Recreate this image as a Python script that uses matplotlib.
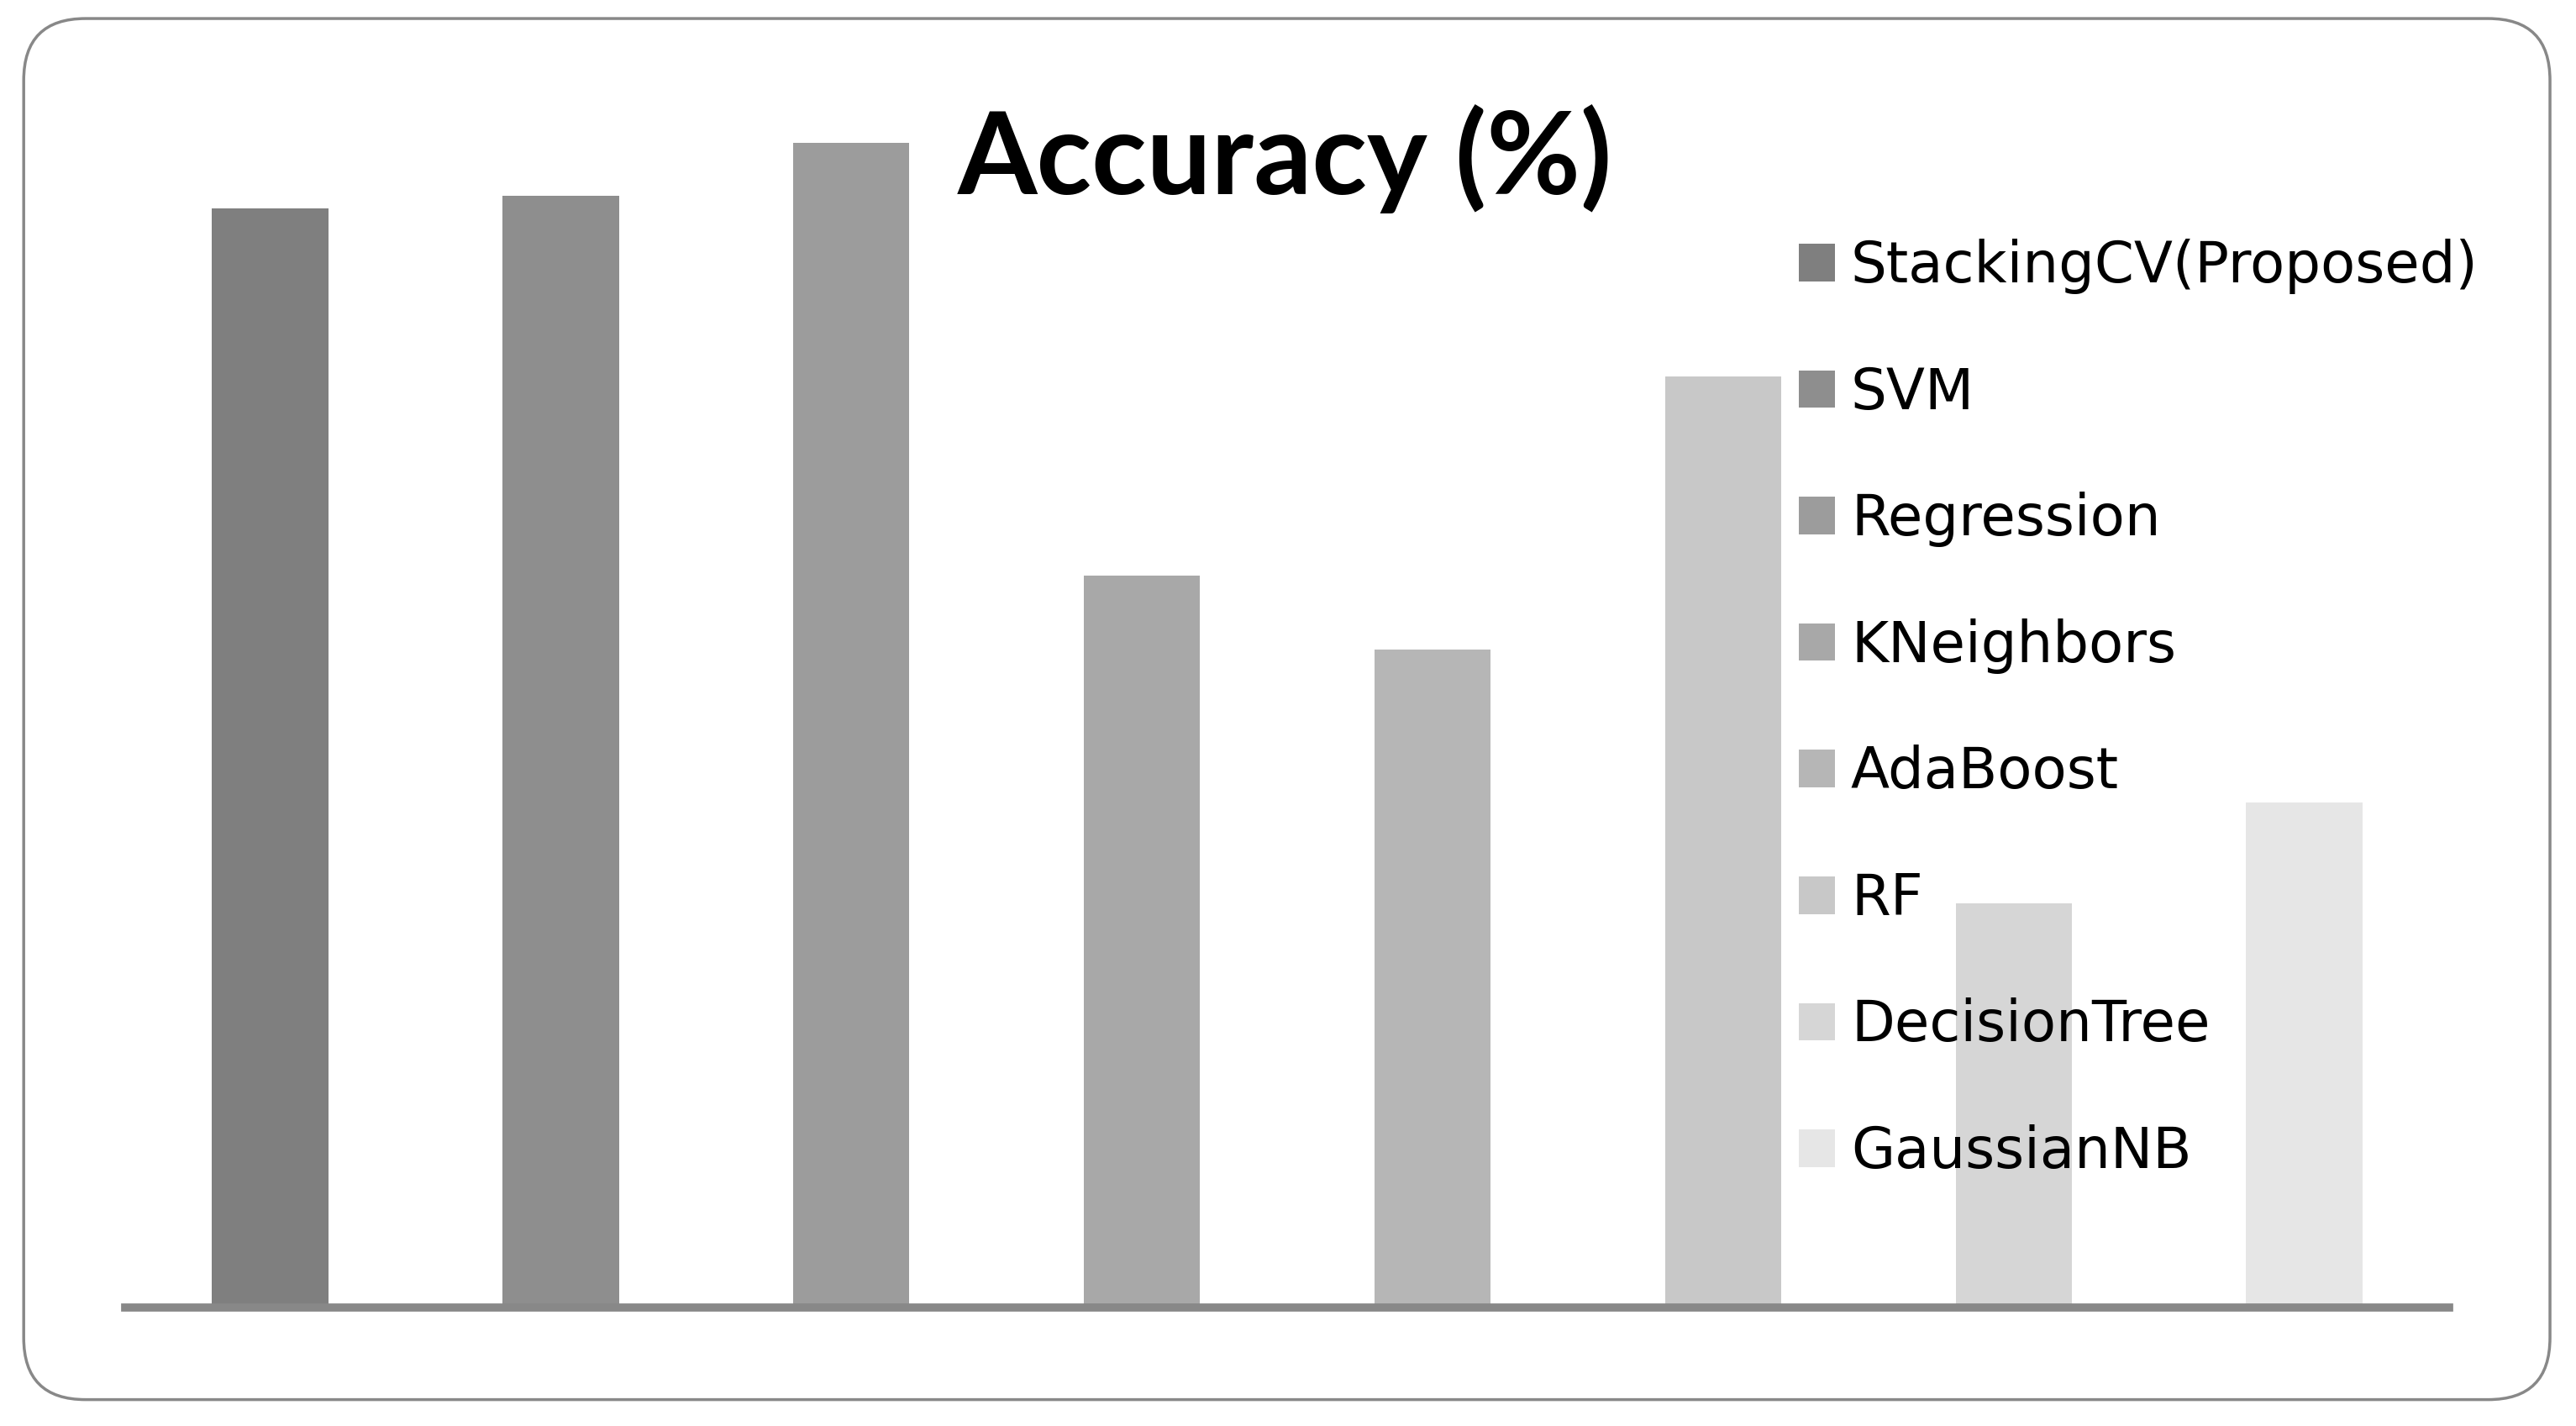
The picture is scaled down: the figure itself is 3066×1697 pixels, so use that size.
import matplotlib
import matplotlib.pyplot as plt
from matplotlib.patches import FancyBboxPatch

matplotlib.use("Agg")

models = ["StackingCV(Proposed)", "SVM", "Regression", "KNeighbors",
          "AdaBoost", "RF", "DecisionTree", "GaussianNB"]
# bar heights (no value axis shown)
accuracy = [668, 676, 708, 445, 400, 566, 246, 307]
shades = ["#7f7f7f", "#8e8e8e", "#9c9c9c", "#a8a8a8",
          "#b6b6b6", "#c8c8c8", "#d6d6d6", "#e6e6e6"]

plt.rcParams["font.family"] = ["Lato", "DejaVu Sans"]

fig = plt.figure(figsize=(30.66, 16.97), dpi=100)
ax = fig.add_axes([0.0485, 0.083, 0.9024, 0.848])

bars = ax.bar(range(len(models)), accuracy, width=0.4, color=shades, zorder=2)
ax.set_xlim(-0.5, len(models) - 0.5)
ax.set_ylim(0, 735)

for side in ["top", "left", "right"]:
    ax.spines[side].set_visible(False)
ax.spines["bottom"].set_color("#888888")
ax.spines["bottom"].set_linewidth(7)
ax.spines["bottom"].set_zorder(3)
ax.set_xticks([])
ax.set_yticks([])

fig.text(0.4987, 0.864, "Accuracy (%)", ha="center", va="baseline",
         fontsize=98, fontweight="bold")

leg = ax.legend(bars, models, loc="upper left", bbox_to_anchor=(0.6983, 0.8325),
                bbox_transform=fig.transFigure, frameon=False,
                prop={"family": "DejaVu Sans", "size": 48.5},
                handlelength=0.64, handleheight=0.64, handletextpad=0.28,
                labelspacing=1.255, borderaxespad=0, borderpad=0)

# rounded outer frame
frame = FancyBboxPatch((0.0092, 0.0185), 0.9807, 0.9685,
                       boxstyle="round,pad=0,rounding_size=0.024",
                       mutation_aspect=3066 / 1697,
                       transform=fig.transFigure, facecolor="none",
                       edgecolor="#888888", linewidth=2.5)
fig.patches.append(frame)

fig.savefig("out.png", dpi=100)
